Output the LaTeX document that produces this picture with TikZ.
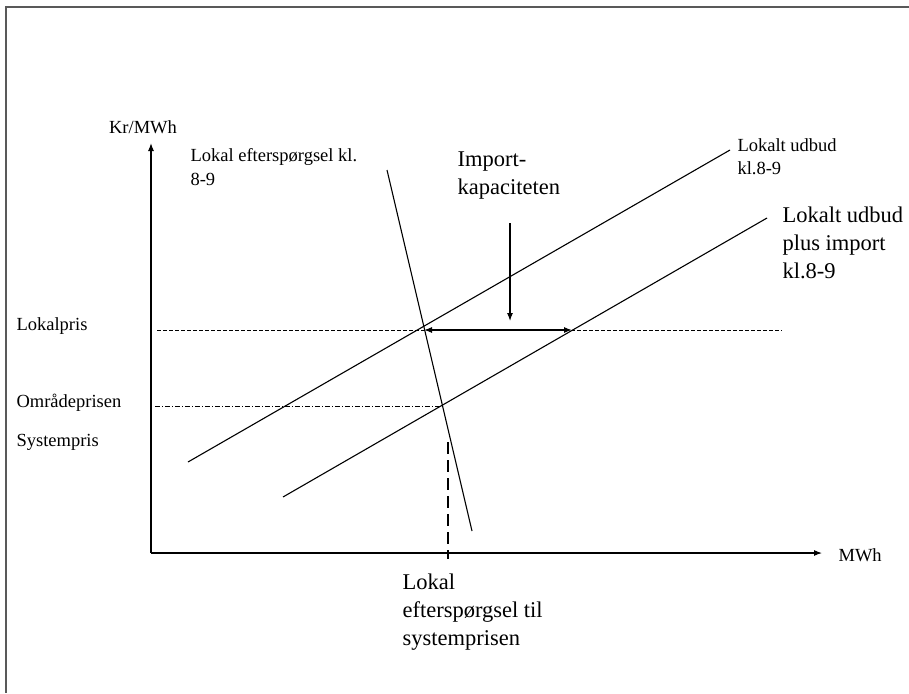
\documentclass[tikz,border=0pt]{standalone}
\usepackage{fontspec}
\setmainfont{Liberation Serif}
\usetikzlibrary{arrows.meta}
\tikzset{
  small/.style={font=\fontsize{18.5}{23.5}\selectfont,inner sep=0pt,align=left},
  big/.style={font=\fontsize{22.5}{28}\selectfont,inner sep=0pt,align=left},
  prisline/.style={dash pattern=on 4pt off 2pt,line width=1pt},
}
\begin{document}
\begin{tikzpicture}[x=1pt,y=-1pt,>={Latex[length=8pt,width=6pt]},line width=1.1pt]
\useasboundingbox (0,0) rectangle (909,693);
% frame (only top and left show)
\draw[gray!70!black,line width=2.5pt](909,7)--(6,7)--(6,693);
% axes
\coordinate (O) at (151,553);
\coordinate (ytop) at (151,143);
\coordinate (xend) at (822,553);
\draw[->](O)--(ytop);
\draw[->](O)--(xend);
\node[small,anchor=south] (kr) at (143,134) {Kr/MWh};
\node[small,anchor=west] (mwh) at (838,555) {MWh};
% demand and supply
\coordinate (d1) at (387,170);
\coordinate (d2) at (472,531);
\coordinate (s1a) at (188,462);
\coordinate (s1b) at (730,150);
\coordinate (s2a) at (283,497);
\coordinate (s2b) at (767,218);
\draw(d1)--(d2);
\draw(s1a)--(s1b);
\draw(s2a)--(s2b);
% price levels
\coordinate (lp1) at (157,330);
\coordinate (lp2) at (782,330);
\coordinate (op1) at (155,406);
\coordinate (op2) at (441,406);
\draw[prisline](lp1)--(lp2);
\draw[line width=1pt,dash pattern=on 5pt off 2pt on 1pt off 2pt](op1)--(op2);
\draw[dashed,dash pattern=on 12pt off 6pt](448,442)--(448,559);
% import arrows
\coordinate (ia) at (424,330);
\coordinate (ib) at (572,330);
\draw[<->](ia)--(ib);
\coordinate (kap) at (510,223);
\coordinate (kapend) at (510,321);
\draw[->](kap)--(kapend);
% labels
\node[small,anchor=north west] (eft) at (190,148) {Lokal efterspørgsel kl.\\8-9};
\node[big,anchor=north west] (imp) at (457,151) {Import-\\kapaciteten};
\node[small,anchor=north west] (ud1) at (737,138) {Lokalt udbud\\kl.8-9};
\node[big,anchor=north west] (ud2) at (782,206) {Lokalt udbud\\plus import\\kl.8-9};
\node[small,anchor=west] (lokpris) at (16,326) {Lokalpris};
\node[small,anchor=west] (omr) at (16,403) {Områdeprisen};
\node[small,anchor=west] (sys) at (16,442) {Systempris};
\node[big,anchor=north west] (bund) at (402,573) {Lokal\\efterspørgsel til\\systemprisen};
\end{tikzpicture}
\end{document}
